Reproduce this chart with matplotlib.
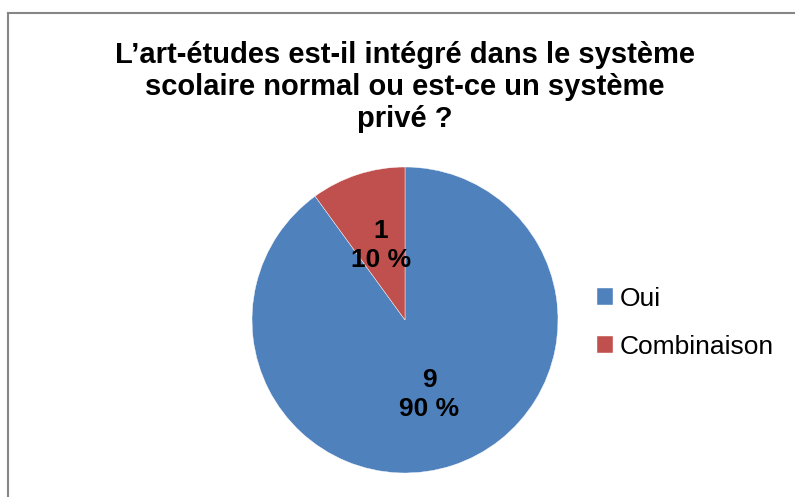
import matplotlib.pyplot as plt
from matplotlib.lines import Line2D

labels = ['Oui', 'Combinaison']
values = [9, 1]
colors = ['#4F81BD', '#C0504D']
title = "L\u2019art-\u00e9tudes est-il int\u00e9gr\u00e9 dans le syst\u00e8me\nscolaire normal ou est-ce un syst\u00e8me\npriv\u00e9 ?"

plt.rcParams['font.family'] = ['Liberation Sans', 'DejaVu Sans']

W, H = 795, 497
fig = plt.figure(figsize=(W / 100, H / 100), dpi=100)

# frame (only top and left visible, the rest is cut off)
fig.add_artist(Line2D([8 / W, 8 / W], [0, 1 - 13 / H], transform=fig.transFigure,
                      color='#868686', lw=1.5))
fig.add_artist(Line2D([8 / W, 1], [1 - 13 / H, 1 - 13 / H], transform=fig.transFigure,
                      color='#868686', lw=1.5))

cx, cy, r = 405, 320, 153
ax = fig.add_axes([(cx - r) / W, (H - cy - r) / H, 2 * r / W, 2 * r / H])
total = sum(values)


def fmt(p):
    n = int(round(p * total / 100))
    return f"{n}\n{p:.0f} %"


wedges, texts, autotexts = ax.pie(values, colors=colors, startangle=90, counterclock=False,
                                  autopct=fmt, pctdistance=0.51, radius=1,
                                  wedgeprops=dict(linewidth=0.3, edgecolor='white'),
                                  textprops=dict(fontsize=19, fontweight='bold', color='black',
                                                 linespacing=1.25))
ax.set_xlim(-1, 1)
ax.set_ylim(-1, 1)
ax.set_aspect('equal')
ax.axis('off')

fig.text(cx / W, 1 - 87 / H, title, ha='center', va='center', fontsize=21,
         fontweight='bold', linespacing=1.2)

fig.legend(wedges, labels, loc='center left', bbox_to_anchor=(584 / W, 1 - 323 / H),
           frameon=False, fontsize=19, handlelength=0.6, handleheight=0.6,
           handletextpad=0.25, labelspacing=0.92, borderpad=0)

fig.savefig('out.png', dpi=100)
